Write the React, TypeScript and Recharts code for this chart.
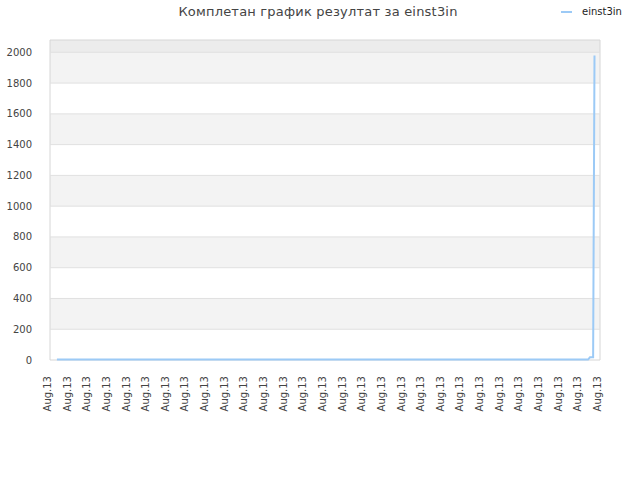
import { LineChart, Line, XAxis, YAxis, ReferenceArea, ReferenceLine } from "recharts";

const title = "Комплетан график резултат за einst3in";
const seriesName = "einst3in";

// 29 date labels along the bottom axis
const tickLabels = Array.from({ length: 29 }, () => "Aug.13");

// sample positions (in label units) and results
const sampleX = [0.48, 1, 2, 3, 4, 5, 6, 7, 8, 9, 10, 11, 12, 13, 14, 15, 16, 17, 18, 19, 20, 21, 22, 23, 24, 25, 26, 27, 27.52, 27.62, 27.78, 27.85];
const sampleValues = [3, 3, 3, 3, 3, 3, 3, 3, 3, 3, 3, 3, 3, 3, 3, 3, 3, 3, 3, 3, 3, 3, 3, 3, 3, 3, 3, 3, 3, 18, 18, 1980];

const yTicks = [0, 200, 400, 600, 800, 1000, 1200, 1400, 1600, 1800, 2000];
const yMax = 2080;
const xMin = 0.127;
const xMax = 28.13;

const lineColor = "#9ccaf6";
const font = "DejaVu Sans";

const data = sampleX.map((x, i) => ({ x, value: sampleValues[i] }));

const XTick = ({ x, y, payload }: any) => (
  <text
    x={x}
    y={y + 8}
    transform={`rotate(-90, ${x}, ${y + 8})`}
    textAnchor="end"
    dy="0.35em"
    fontSize={10}
    fontFamily={font}
    fill="#444">
    {tickLabels[payload.value]}
  </text>
);

const YTick = ({ x, y, payload }: any) => (
  <text x={x - 10} y={y} textAnchor="end" dy="0.35em" fontSize={10} fontFamily={font} fill="#444">
    {payload.value}
  </text>
);

export default function App() {
  const bands = yTicks.map((t, i) => ({ y1: t, y2: yTicks[i + 1] ?? yMax, i }));
  return (
    <div style={{ position: "absolute", left: 0, top: 0, width: 640, height: 480, background: "#fff" }}>
      <div
        style={{
          position: "absolute",
          top: 4,
          left: 0,
          width: 636,
          textAlign: "center",
          fontFamily: font,
          fontSize: 13,
          letterSpacing: 0.2,
          color: "#444",
        }}>
        {title}
      </div>
      <div
        style={{
          position: "absolute",
          top: 6,
          left: 561,
          display: "flex",
          alignItems: "center",
          fontFamily: font,
          fontSize: 10,
          color: "#222",
        }}>
        <span style={{ display: "inline-block", width: 11, height: 2, background: lineColor, marginRight: 10 }} />
        {seriesName}
      </div>
      <LineChart width={640} height={480} data={data} margin={{ top: 40, right: 40, bottom: 0, left: 0 }}>
        {bands.map((b) => (
          <ReferenceArea
            key={b.y1}
            x1={xMin}
            x2={xMax}
            y1={b.y1}
            y2={b.y2}
            fill={b.y2 === yMax ? "#ececec" : b.i % 2 === 1 ? "#f3f3f3" : "#ffffff"}
            fillOpacity={1}
            stroke="none"
          />
        ))}
        {yTicks.slice(1).map((t) => (
          <ReferenceLine key={t} y={t} stroke="#e0e0e0" strokeWidth={1} />
        ))}
        <ReferenceArea x1={xMin} x2={xMax} y1={0} y2={yMax} fill="none" stroke="#d6d6d6" strokeWidth={1} />
        <XAxis
          type="number"
          dataKey="x"
          domain={[xMin, xMax]}
          allowDataOverflow
          ticks={tickLabels.map((_, i) => i)}
          interval={0}
          axisLine={false}
          tickLine={false}
          height={120}
          tick={<XTick />}
        />
        <YAxis
          type="number"
          domain={[0, yMax]}
          ticks={yTicks}
          interval={0}
          width={50}
          axisLine={false}
          tickLine={false}
          tick={<YTick />}
        />
        <Line
          type="linear"
          dataKey="value"
          name={seriesName}
          stroke={lineColor}
          strokeWidth={2}
          dot={false}
          isAnimationActive={false}
        />
      </LineChart>
    </div>
  );
}
